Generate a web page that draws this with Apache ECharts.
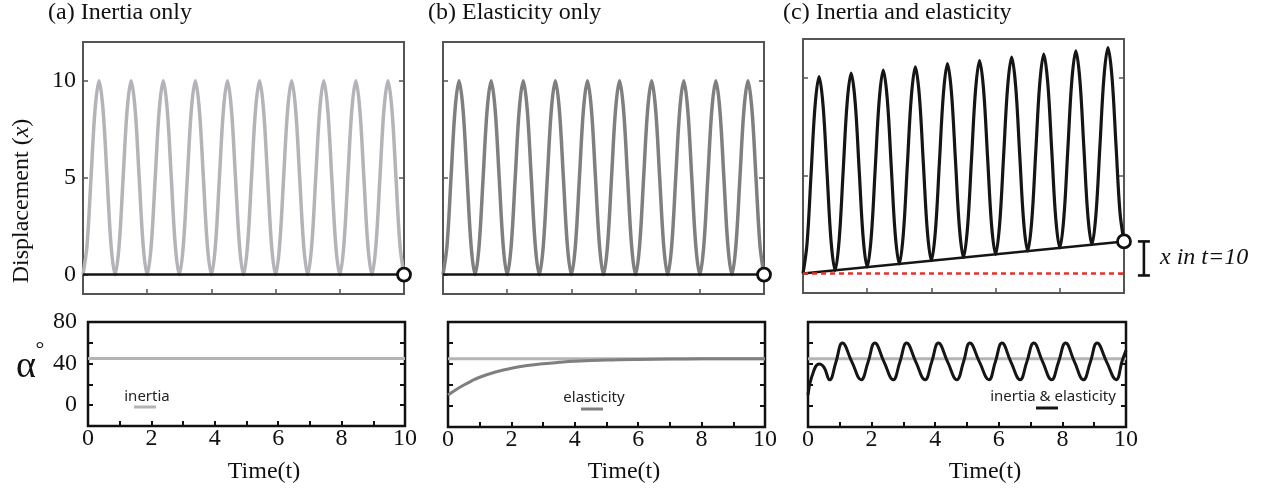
<!DOCTYPE html>
<html>
<head>
<meta charset="utf-8">
<script src="https://cdn.jsdelivr.net/npm/echarts@6/dist/echarts.min.js"></script>
<style>
  html, body { margin: 0; padding: 0; background: #fff; }
  #chart { width: 1266px; height: 490px; }
</style>
</head>
<body>
<div id="chart"></div>
<script>
// ---------------- DATA ----------------
const panelTitles = ['(a) Inertia only', '(b) Elasticity only', '(c) Inertia and elasticity'];
const legendNames = ['inertia', 'elasticity', 'inertia & elasticity'];
const timeTicks = [0, 2, 4, 6, 8, 10];
const dispTicks = [0, 5, 10];
const alphaTicks = [0, 40, 80];

// sample times (s) for the displacement curves
const sampleTimes = [
  0, 0.125, 0.25, 0.375, 0.5, 0.625, 0.75, 0.875,
  1, 1.125, 1.25, 1.375, 1.5, 1.625, 1.75, 1.875,
  2, 2.125, 2.25, 2.375, 2.5, 2.625, 2.75, 2.875,
  3, 3.125, 3.25, 3.375, 3.5, 3.625, 3.75, 3.875,
  4, 4.125, 4.25, 4.375, 4.5, 4.625, 4.75, 4.875,
  5, 5.125, 5.25, 5.375, 5.5, 5.625, 5.75, 5.875,
  6, 6.125, 6.25, 6.375, 6.5, 6.625, 6.75, 6.875,
  7, 7.125, 7.25, 7.375, 7.5, 7.625, 7.75, 7.875,
  8, 8.125, 8.25, 8.375, 8.5, 8.625, 8.75, 8.875,
  9, 9.125, 9.25, 9.375, 9.5, 9.625, 9.75, 9.875,
  10
];
// (a) inertia only / (b) elasticity only : displacement oscillation
const dispInertia = [
  0, 1.5, 5, 8.5, 10, 8.5, 5, 1.5,
  0, 1.5, 5, 8.5, 10, 8.5, 5, 1.5,
  0, 1.5, 5, 8.5, 10, 8.5, 5, 1.5,
  0, 1.5, 5, 8.5, 10, 8.5, 5, 1.5,
  0, 1.5, 5, 8.5, 10, 8.5, 5, 1.5,
  0, 1.5, 5, 8.5, 10, 8.5, 5, 1.5,
  0, 1.5, 5, 8.5, 10, 8.5, 5, 1.5,
  0, 1.5, 5, 8.5, 10, 8.5, 5, 1.5,
  0, 1.5, 5, 8.5, 10, 8.5, 5, 1.5,
  0, 1.5, 5, 8.5, 10, 8.5, 5, 1.5,
  0
];
const dispElastic = [
  0, 1.5, 5, 8.5, 10, 8.5, 5, 1.5,
  0, 1.5, 5, 8.5, 10, 8.5, 5, 1.5,
  0, 1.5, 5, 8.5, 10, 8.5, 5, 1.5,
  0, 1.5, 5, 8.5, 10, 8.5, 5, 1.5,
  0, 1.5, 5, 8.5, 10, 8.5, 5, 1.5,
  0, 1.5, 5, 8.5, 10, 8.5, 5, 1.5,
  0, 1.5, 5, 8.5, 10, 8.5, 5, 1.5,
  0, 1.5, 5, 8.5, 10, 8.5, 5, 1.5,
  0, 1.5, 5, 8.5, 10, 8.5, 5, 1.5,
  0, 1.5, 5, 8.5, 10, 8.5, 5, 1.5,
  0
];
// (c) inertia and elasticity : drifting oscillation
const dispBoth = [
  0, 1.52, 5.04, 8.56, 10.08, 8.6, 5.12, 1.64,
  0.16, 1.68, 5.2, 8.73, 10.25, 8.77, 5.29, 1.81,
  0.33, 1.85, 5.37, 8.89, 10.41, 8.93, 5.45, 1.97,
  0.49, 2.01, 5.53, 9.05, 10.57, 9.09, 5.61, 2.14,
  0.66, 2.18, 5.7, 9.22, 10.74, 9.26, 5.78, 2.3,
  0.82, 2.34, 5.86, 9.38, 10.9, 9.42, 5.94, 2.46,
  0.98, 2.5, 6.03, 9.55, 11.07, 9.59, 6.11, 2.63,
  1.15, 2.67, 6.19, 9.71, 11.23, 9.75, 6.27, 2.79,
  1.31, 2.83, 6.35, 9.87, 11.39, 9.91, 6.43, 2.95,
  1.48, 3.0, 6.52, 10.04, 11.56, 10.08, 6.6, 3.12,
  1.64
];
// net displacement lines [t, x]
const netZero = [[0, 0], [10, 0]];
const netBoth = [[0, 0], [10, 1.64]];
const endZero = [[10, 0]];
const endBoth = [[10, 1.64]];
const gapBracket = [[10.62, 0, 1.64]];

// alpha (degrees) curves [t, alpha]
const alphaInertia = [[0, 45], [10, 45]];
const alphaElastic = [
  [0, 10.5], [0.25, 15.5], [0.5, 20], [0.75, 24], [1, 27.4], [1.5, 32.4],
  [2, 35.9], [2.5, 38.5], [3, 40.3], [3.5, 41.6], [4, 42.6], [5, 43.8],
  [6, 44.4], [7, 44.7], [8, 44.9], [10, 45]
];
const alphaBoth = [
  [0, 10.5], [0.12, 28], [0.35, 40], [0.5, 37], [0.68, 25], [0.88, 42], [1.08, 60], [1.38, 42],
  [1.67, 25], [1.89, 42], [2.1, 60], [2.39, 42],
  [2.68, 25], [2.89, 42], [3.1, 60], [3.39, 42],
  [3.68, 25], [3.89, 42], [4.1, 60], [4.39, 42],
  [4.68, 25], [4.89, 42], [5.09, 60], [5.39, 42],
  [5.69, 25], [5.89, 42], [6.1, 60], [6.38, 42],
  [6.67, 25], [6.88, 42], [7.1, 60], [7.38, 42],
  [7.66, 25], [7.88, 42], [8.1, 60], [8.38, 42],
  [8.66, 25], [8.88, 42], [9.09, 60], [9.39, 42],
  [9.69, 25], [9.88, 43], [10, 53]
];

// ---------------- STYLE / LAYOUT ----------------
const SERIF = '"Liberation Serif", "Times New Roman", serif';
const SANS = '"Noto Sans", "Open Sans", sans-serif';
const cLight = '#b4b4b8', cMid = '#7f7f7f', cDark = '#151515', cRed = '#e8302a';

const grids = [
  { left: 83, top: 42, width: 321, height: 252 },
  { left: 443, top: 42, width: 321, height: 252 },
  { left: 803, top: 39, width: 321, height: 254 },
  { left: 88, top: 322, width: 317, height: 104 },
  { left: 448, top: 322, width: 317, height: 105 },
  { left: 808, top: 322, width: 318, height: 105 }
].map((g, i) => Object.assign({
  show: true, backgroundColor: 'transparent',
  borderColor: i < 3 ? '#555' : '#111', borderWidth: i < 3 ? 2 : 2.5
}, g));

const xAxes = [], yAxes = [], yAxesR = [];
for (let i = 0; i < 6; i++) {
  const top = i < 3;
  const tickCol = top ? '#555' : '#111';
  xAxes.push({
    type: 'value', gridIndex: i, min: 0, max: 10, interval: top ? 2 : 1, position: 'bottom',
    axisLine: { show: false, onZero: false }, splitLine: { show: false },
    axisTick: { show: true, inside: true, length: 5, lineStyle: { color: tickCol, width: top ? 1.5 : 2 } },
    axisLabel: top ? { show: false } : {
      show: true, margin: 1, color: '#111', fontFamily: SERIF, fontSize: 24,
      formatter: v => (timeTicks.indexOf(v) >= 0 ? String(v) : '')
    }
  });
  const yBase = top
    ? { min: -1, max: 12, axisTick: { show: true, inside: true, length: 5, customValues: dispTicks, lineStyle: { color: tickCol, width: 1.5 } } }
    : { min: -20, max: 80, interval: 20, axisTick: { show: true, inside: true, length: 5, lineStyle: { color: tickCol, width: 2 } } };
  yAxes.push(Object.assign({
    type: 'value', gridIndex: i, position: 'left',
    axisLine: { show: false, onZero: false }, splitLine: { show: false },
    axisLabel: (i === 0) ? { show: true, customValues: dispTicks, margin: 7, color: '#111', fontFamily: SERIF, fontSize: 24 }
      : (i === 3) ? { show: true, margin: 11, color: '#111', fontFamily: SERIF, fontSize: 24, formatter: v => (alphaTicks.indexOf(v) >= 0 ? String(v) : '') }
      : { show: false }
  }, JSON.parse(JSON.stringify(yBase))));
  yAxesR.push(Object.assign({
    type: 'value', gridIndex: i, position: 'right',
    axisLine: { show: false, onZero: false }, splitLine: { show: false }, axisLabel: { show: false }
  }, JSON.parse(JSON.stringify(yBase))));
}

function pair(ts, vs) { return ts.map((t, k) => [t, vs[k]]); }
function line(idx, data, color, width, extra) {
  return Object.assign({
    type: 'line', xAxisIndex: idx, yAxisIndex: idx, data: data,
    showSymbol: false, symbol: 'none', silent: true, animation: false,
    lineStyle: { color: color, width: width }
  }, extra || {});
}
function endDot(idx, data) {
  return {
    type: 'scatter', xAxisIndex: idx, yAxisIndex: idx, data: data, clip: false, z: 10,
    symbol: 'circle', symbolSize: 13, silent: true, animation: false,
    itemStyle: { color: '#ffffff', opacity: 1, borderColor: '#111', borderWidth: 2.8 }
  };
}

const series = [
  // top panels
  line(0, pair(sampleTimes, dispInertia), cLight, 3.5, { smooth: 0.35 }),
  line(0, netZero, cDark, 2.5),
  endDot(0, endZero),
  line(1, pair(sampleTimes, dispElastic), cMid, 3.5, { smooth: 0.35 }),
  line(1, netZero, cDark, 2.5),
  endDot(1, endZero),
  line(2, pair(sampleTimes, dispBoth), cDark, 3.2, { smooth: 0.35 }),
  line(2, netBoth, cDark, 2.5),
  line(2, netZero, cRed, 2.5, { lineStyle: { color: cRed, width: 2.5, type: [5, 4] } }),
  endDot(2, endBoth),
  {
    type: 'custom', xAxisIndex: 2, yAxisIndex: 2, data: gapBracket, clip: false, silent: true, animation: false,
    renderItem: function (params, api) {
      const p0 = api.coord([api.value(0), api.value(1)]);
      const p1 = api.coord([api.value(0), api.value(2)]);
      const st = { stroke: '#111', lineWidth: 2.6 };
      const cap = 6;
      return {
        type: 'group', children: [
          { type: 'line', shape: { x1: p0[0], y1: p0[1] + 2, x2: p1[0], y2: p1[1] }, style: st },
          { type: 'line', shape: { x1: p0[0] - cap, y1: p0[1] + 2, x2: p0[0] + cap, y2: p0[1] + 2 }, style: st },
          { type: 'line', shape: { x1: p1[0] - cap, y1: p1[1], x2: p1[0] + cap, y2: p1[1] }, style: st }
        ]
      };
    }
  },
  // bottom panels
  line(3, alphaInertia, cLight, 3),
  line(4, alphaInertia, cLight, 3),
  line(4, alphaElastic, cMid, 3, { smooth: 0.4 }),
  line(5, alphaInertia, cLight, 3),
  line(5, alphaBoth, cDark, 3, { smooth: 0.45 })
];

const graphic = [];
const titleX = [48, 428, 783];
panelTitles.forEach((t, i) => graphic.push({
  type: 'text', x: titleX[i], y: 13,
  style: { text: t, fill: '#111', font: '24px ' + SERIF, textVerticalAlign: 'middle', textAlign: 'left' }
}));
graphic.push({
  type: 'text', x: 22, y: 201, rotation: Math.PI / 2,
  style: {
    text: '{n|Displacement (}{i|x}{n|)}', textAlign: 'center', textVerticalAlign: 'middle',
    rich: {
      n: { fontFamily: SERIF, fontSize: 24, fill: '#111' },
      i: { fontFamily: SERIF, fontSize: 24, fontStyle: 'italic', fill: '#111' }
    }
  }
});
graphic.push({
  type: 'text', x: 26, y: 367,
  style: { text: 'α', fill: '#111', font: '38px ' + SERIF, textAlign: 'center', textVerticalAlign: 'middle' }
});
graphic.push({
  type: 'text', x: 40, y: 350,
  style: { text: '°', fill: '#111', font: '22px ' + SERIF, textAlign: 'center', textVerticalAlign: 'middle' }
});
[264, 624, 985].forEach(x => graphic.push({
  type: 'text', x: x, y: 472,
  style: { text: 'Time(t)', fill: '#111', font: '24px ' + SERIF, textAlign: 'center', textVerticalAlign: 'middle' }
}));
graphic.push({
  type: 'text', x: 1160, y: 258,
  style: { text: 'x in t=10', fill: '#111', font: 'italic 24px ' + SERIF, textAlign: 'left', textVerticalAlign: 'middle' }
});
const legendPos = [
  { tx: 147, ty: 397, x1: 134, x2: 156, ly: 407, c: cLight },
  { tx: 594, ty: 398, x1: 581, x2: 603, ly: 409, c: cMid },
  { tx: 1053, ty: 397, x1: 1036, x2: 1058, ly: 408, c: cDark }
];
legendNames.forEach((n, i) => {
  const p = legendPos[i];
  graphic.push({
    type: 'text', x: p.tx, y: p.ty,
    style: { text: n, fill: '#222', font: '15px ' + SANS, textAlign: 'center', textVerticalAlign: 'middle' }
  });
  graphic.push({
    type: 'line', shape: { x1: p.x1, y1: p.ly, x2: p.x2, y2: p.ly },
    style: { stroke: p.c, lineWidth: 3 }
  });
});

const chart = echarts.init(document.getElementById('chart'), null, { renderer: 'canvas' });
chart.setOption({
  animation: false,
  backgroundColor: '#fff',
  grid: grids,
  xAxis: xAxes,
  yAxis: yAxes.concat(yAxesR),
  series: series,
  graphic: graphic
});
</script>
</body>
</html>
